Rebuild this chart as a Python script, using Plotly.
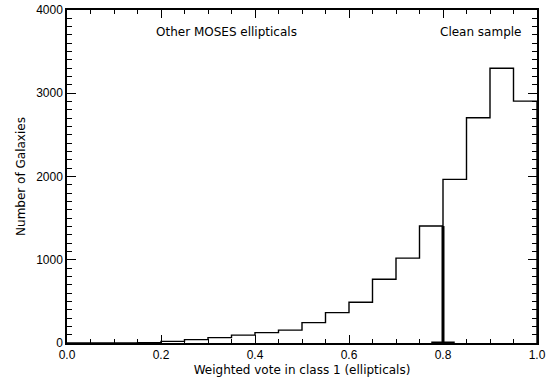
import plotly.graph_objects as go

bin_edges = [round(0.05 * i, 2) for i in range(21)]
counts = [0, 0, 2, 5, 20, 40, 65, 95, 125, 155, 245, 365, 490, 765, 1020, 1405, 1965, 2705, 3300, 2905]
cut_value = 0.8
cut_height = 1405
x_ticks = [0.0, 0.2, 0.4, 0.6, 0.8, 1.0]
y_ticks = [0, 1000, 2000, 3000, 4000]

FONT = "Liberation Sans"
TFONT = "DejaVu Sans"

xs = list(bin_edges) + [bin_edges[-1]]
ys = list(counts) + [counts[-1], 0]

fig = go.Figure()
fig.add_trace(go.Scatter(
    x=xs, y=ys, mode="lines", line=dict(shape="hv", color="black", width=1.4),
    hoverinfo="skip", showlegend=False))
# thick cut line at 0.8
fig.add_trace(go.Scatter(
    x=[cut_value - 0.025, cut_value + 0.025], y=[0, 0], mode="lines",
    line=dict(color="black", width=3), hoverinfo="skip", showlegend=False))
fig.add_trace(go.Scatter(
    x=[cut_value, cut_value], y=[0, cut_height], mode="lines",
    line=dict(color="black", width=3), hoverinfo="skip", showlegend=False))

fig.add_annotation(text="Other MOSES ellipticals", xref="paper", yref="paper",
                   xanchor="center", yanchor="middle",
                   x=0.34, y=0.934, showarrow=False, font=dict(family=TFONT, size=12, color="black"))
fig.add_annotation(text="Clean sample", xref="paper", yref="paper",
                   xanchor="center", yanchor="middle",
                   x=0.881, y=0.934, showarrow=False, font=dict(family=TFONT, size=12, color="black"))

fig.update_xaxes(range=[0, 1], tickvals=x_ticks, tickformat=".1f",
                 showgrid=False, zeroline=False, showline=True, linecolor="black", linewidth=1.5,
                 mirror="allticks", ticks="inside", ticklen=8, tickwidth=1.3, tickcolor="black",
                 automargin=False,
                 tickfont=dict(family=FONT, size=12, color="black"),
                 minor=dict(dtick=0.05, ticks="inside", ticklen=4, tickwidth=1.2, tickcolor="black"),
                 title=dict(text="Weighted vote in class 1 (ellipticals)", font=dict(family=TFONT, size=12, color="black"), standoff=4))
fig.update_yaxes(range=[0, 4000], tickvals=y_ticks, tickformat="d",
                 showgrid=False, zeroline=False, showline=True, linecolor="black", linewidth=1.5,
                 mirror="allticks", ticks="inside", ticklen=9, tickwidth=1.3, tickcolor="black",
                 automargin=False,
                 tickfont=dict(family=FONT, size=12, color="black"),
                 minor=dict(dtick=100, ticks="inside", ticklen=5, tickwidth=1.2, tickcolor="black"),
                 title=dict(text="Number of Galaxies", font=dict(family=TFONT, size=12, color="black"), standoff=8))

fig.update_layout(width=552, height=379, margin=dict(l=67, r=15, t=10, b=36, autoexpand=False),
                  paper_bgcolor="white", plot_bgcolor="white")
fig.write_html("out.html")
